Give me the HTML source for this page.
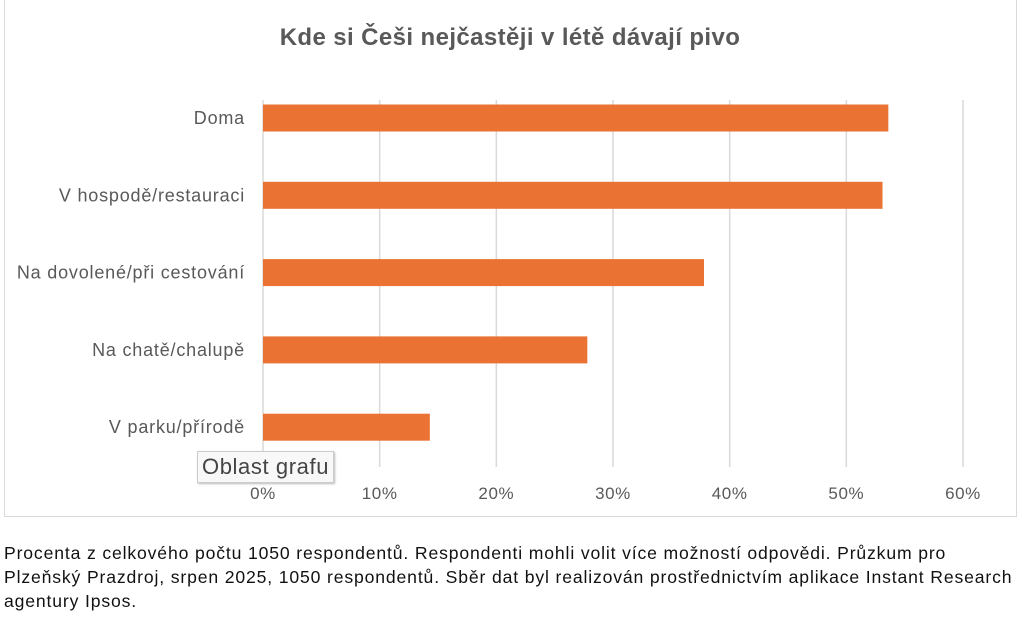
<!DOCTYPE html>
<html><head><meta charset="utf-8"><style>
body{margin:0;width:1024px;height:623px;background:#fff;font-family:"Liberation Sans",sans-serif;overflow:hidden;position:relative}
#chart{position:absolute;left:4px;top:0;width:1013px;height:517px;border:1px solid #d9d9d9;border-top:none;box-sizing:border-box}
#note{position:absolute;left:4px;top:541px;width:1020px;white-space:nowrap;font-size:17.6px;letter-spacing:0.85px;line-height:24px;color:#111}
#tip{position:absolute;left:197px;top:451px;padding:0 4px;height:30px;line-height:30px;font-size:22px;letter-spacing:0.6px;color:#444;background:#f8f8f8;border:1px solid #ccc;box-shadow:1px 1px 2px #bbb}
</style></head><body>
<svg id="chart-svg" width="1024" height="623" style="position:absolute;left:0;top:0"></svg>
<div id="chart"></div>
<div id="tip">Oblast grafu</div>
<div id="note">Procenta z celkového počtu 1050 respondentů. Respondenti mohli volit více možností odpovědi. Průzkum pro<br>Plzeňský Prazdroj, srpen 2025, 1050 respondentů. Sběr dat byl realizován prostřednictvím aplikace Instant Research<br>agentury Ipsos.</div>
<script>
const categories=["Doma","V hospodě/restauraci","Na dovolené/při cestování","Na chatě/chalupě","V parku/přírodě"];
const values=[53.6,53.1,37.8,27.8,14.3];
const ticks=[0,10,20,30,40,50,60];
const tickLabels=["0%","10%","20%","30%","40%","50%","60%"];
const svg=document.getElementById('chart-svg');
const NS='http://www.w3.org/2000/svg';
const x=v=>263+v*(700/60);
const y=i=>118+i*77.3;
function mk(t,a){const e=document.createElementNS(NS,t);for(const k in a)e.setAttribute(k,a[k]);svg.appendChild(e);return e;}
let t=mk('text',{x:510,y:45,'text-anchor':'middle','font-size':'24','font-weight':'bold','letter-spacing':'0.4',fill:'#595959'});
t.textContent='Kde si Češi nejčastěji v létě dávají pivo';


ticks.forEach((v,i)=>{
 const g=mk('line',{x1:x(v),x2:x(v),y1:100,y2:467,stroke:'#d9d9d9','stroke-width':1.5});
 
 
 const l=mk('text',{x:x(v),y:499,'text-anchor':'middle','font-size':'17','letter-spacing':'0.6',fill:'#595959'});
 l.textContent=tickLabels[i];
 
 
});
categories.forEach((c,i)=>{
 const b=mk('rect',{x:x(0),y:y(i)-13.5,width:x(values[i])-x(0),height:27,fill:'#ea7233'});
 
 
 const l=mk('text',{x:245,y:y(i)+6,'text-anchor':'end','font-size':'18','letter-spacing':'0.8',fill:'#595959'});
 l.textContent=c;
 
 
});
</script>
</body></html>
